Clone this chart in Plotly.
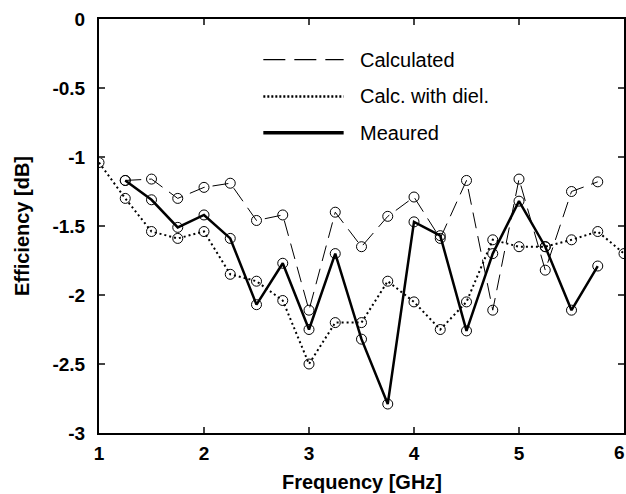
import plotly.graph_objects as go

freq_calc = [1.25, 1.5, 1.75, 2.0, 2.25, 2.5, 2.75, 3.0, 3.25, 3.5, 3.75, 4.0, 4.25, 4.5, 4.75, 5.0, 5.25, 5.5, 5.75]
calc = [-1.17, -1.16, -1.30, -1.22, -1.19, -1.46, -1.42, -2.11, -1.40, -1.65, -1.43, -1.29, -1.59, -1.17, -2.11, -1.16, -1.82, -1.25, -1.18]

freq_diel = [1.0, 1.25, 1.5, 1.75, 2.0, 2.25, 2.5, 2.75, 3.0, 3.25, 3.5, 3.75, 4.0, 4.25, 4.5, 4.75, 5.0, 5.25, 5.5, 5.75, 6.0]
diel = [-1.04, -1.30, -1.54, -1.59, -1.54, -1.85, -1.90, -2.04, -2.50, -2.20, -2.20, -1.90, -2.05, -2.25, -2.05, -1.60, -1.65, -1.65, -1.60, -1.54, -1.70]

freq_meas = [1.25, 1.5, 1.75, 2.0, 2.25, 2.5, 2.75, 3.0, 3.25, 3.5, 3.75, 4.0, 4.25, 4.5, 4.75, 5.0, 5.25, 5.5, 5.75]
meas = [-1.17, -1.31, -1.51, -1.42, -1.59, -2.07, -1.77, -2.25, -1.70, -2.32, -2.79, -1.47, -1.57, -2.26, -1.70, -1.32, -1.65, -2.11, -1.79]

x_ticks = [1, 2, 3, 4, 5, 6]
y_ticks = [0, -0.5, -1, -1.5, -2, -2.5, -3]
y_tick_text = ["0", "-0.5", "-1", "-1.5", "-2", "-2.5", "-3"]

legend_names = ["Calculated", "Calc. with diel.", "Meaured"]
x_title = "Frequency [GHz]"
y_title = "Efficiency [dB]"

marker = dict(symbol="circle-open", size=10, color="black", line=dict(width=1, color="black"))

fig = go.Figure()
fig.add_trace(go.Scatter(x=freq_calc, y=calc, mode="lines+markers", name=legend_names[0],
                         line=dict(color="black", width=1, dash="16px,8px"), marker=marker))
fig.add_trace(go.Scatter(x=freq_diel, y=diel, mode="lines+markers", name=legend_names[1],
                         line=dict(color="black", width=2, dash="2px,3px"), marker=marker))
fig.add_trace(go.Scatter(x=freq_meas, y=meas, mode="lines+markers", name=legend_names[2],
                         line=dict(color="black", width=2.5), marker=marker))

font_family = "Liberation Sans, Arial, sans-serif"
tick_font = dict(size=19, family=font_family, color="black", weight="bold")

# legend drawn manually (long samples as in the original)
legend_y = [0.902, 0.813, 0.725]
legend_dash = ["22px,9px", "2px,2px", "solid"]
legend_w = [1.2, 2.5, 3.5]
for name, yy, d, w in zip(legend_names, legend_y, legend_dash, legend_w):
    fig.add_shape(type="line", xref="paper", yref="paper", x0=0.313, x1=0.466, y0=yy, y1=yy,
                  line=dict(color="black", width=w, dash=d))
    fig.add_annotation(text=name, xref="paper", yref="paper", x=0.493, y=yy, xanchor="left",
                       yanchor="middle", showarrow=False,
                       font=dict(family=font_family, size=20, color="black"))

# axis titles
fig.add_annotation(text=x_title, xref="paper", yref="paper", x=0.5, y=0, yshift=-49,
                   xanchor="center", yanchor="middle", showarrow=False,
                   font=dict(family=font_family, size=20, color="black", weight="bold"))
fig.add_annotation(text=y_title, xref="paper", yref="paper", x=0, y=0.5, xshift=-77,
                   xanchor="center", yanchor="middle", showarrow=False, textangle=-90,
                   font=dict(family=font_family, size=20, color="black", weight="bold"))

# last x tick label sits at the right edge of the figure
fig.add_annotation(text=str(x_ticks[-1]), xref="paper", yref="paper", x=1, y=0, xshift=3,
                   yshift=-19, xanchor="right", yanchor="middle", showarrow=False, font=tick_font)

fig.update_layout(
    width=626, height=494,
    margin=dict(l=99, r=2, t=19, b=61),
    paper_bgcolor="white", plot_bgcolor="white",
    showlegend=False,
    font=dict(family=font_family, color="black"),
)
fig.update_xaxes(range=[1, 6], tickvals=x_ticks[:-1], ticks="inside", ticklen=6, tickwidth=1.5,
                 showline=True, linecolor="black", linewidth=2, mirror="ticks", showgrid=False,
                 zeroline=False, automargin=False, ticklabelstandoff=2, tickfont=tick_font)
fig.update_yaxes(range=[-3, 0], tickvals=y_ticks, ticktext=y_tick_text, ticks="inside", ticklen=6,
                 tickwidth=1.5, showline=True, linecolor="black", linewidth=2, mirror="ticks",
                 showgrid=False, zeroline=False, ticklabelstandoff=8, automargin=False,
                 tickfont=tick_font)

fig.write_html("out.html", config={"displayModeBar": False},
               post_script="document.body.style.margin='0';document.body.style.overflow='hidden';")
